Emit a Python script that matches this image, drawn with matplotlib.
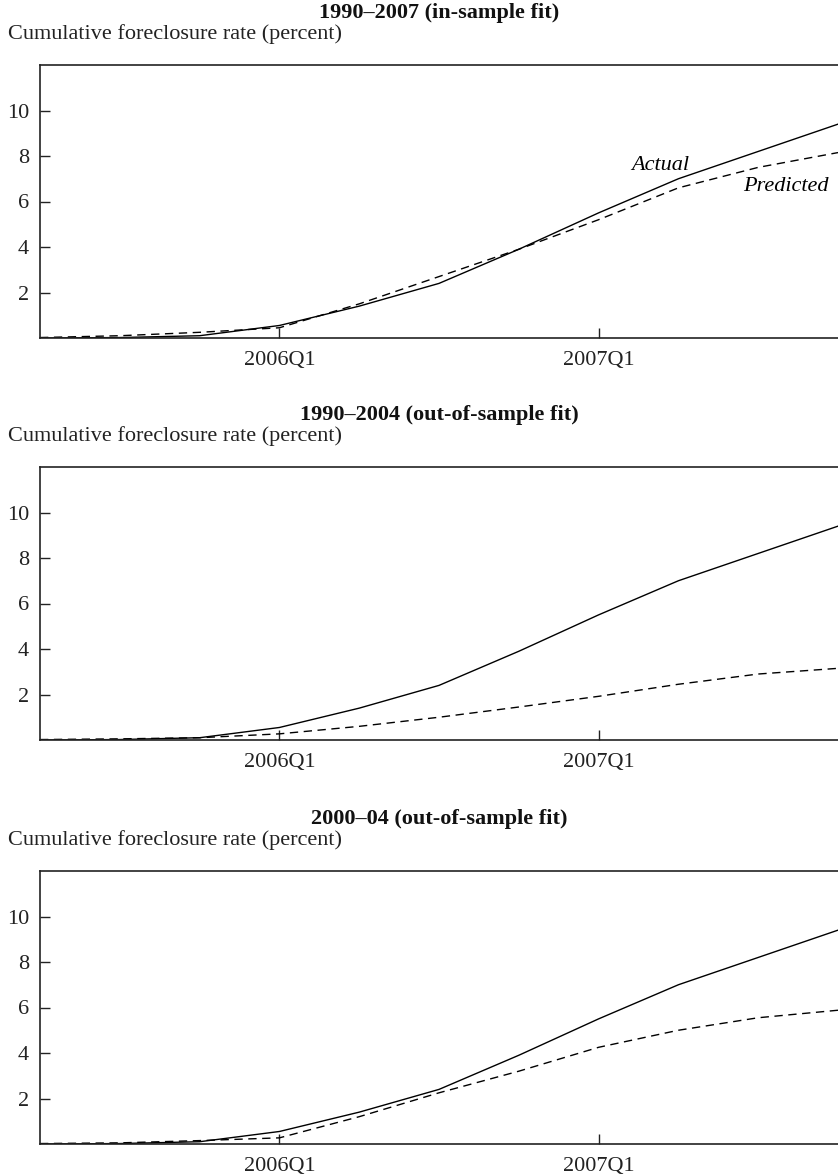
import matplotlib.pyplot as plt

plt.rcParams["font.family"] = ["Liberation Serif", "DejaVu Serif"]

# ---------- Data ----------
quarters = ["2005Q2", "2005Q3", "2005Q4", "2006Q1", "2006Q2", "2006Q3",
            "2006Q4", "2007Q1", "2007Q2", "2007Q3", "2007Q4"]
actual = [0.0, 0.02, 0.1, 0.55, 1.4, 2.4, 3.9, 5.5, 7.0, 8.2, 9.4]
pred_1990_2007 = [0.02, 0.1, 0.25, 0.45, 1.5, 2.7, 3.9, 5.2, 6.6, 7.5, 8.15]
pred_1990_2004 = [0.02, 0.05, 0.1, 0.27, 0.6, 1.0, 1.45, 1.92, 2.45, 2.9, 3.15]
pred_2000_04 = [0.02, 0.05, 0.15, 0.27, 1.2, 2.25, 3.2, 4.25, 5.0, 5.55, 5.88]

titles = ["1990\u20132007 (in-sample fit)",
          "1990\u20132004 (out-of-sample fit)",
          "2000\u201304 (out-of-sample fit)"]
predicted = [pred_1990_2007, pred_1990_2004, pred_2000_04]
tick_labels = ["2006Q1", "2007Q1"]

# ---------- Layout ----------
W, H = 838, 1175
fig = plt.figure(figsize=(W / 100, H / 100), dpi=100)
panel_tops = [65, 467, 871]
panel_h = 273
left = 40
fs = 16

x = list(range(len(quarters)))
for top, title, pred in zip(panel_tops, titles, predicted):
    ax = fig.add_axes([left / W, 1 - (top + panel_h) / H, (W - left) / W, panel_h / H])
    ax.plot(x, actual, color="black", lw=1.0)
    ax.plot(x, pred, color="black", lw=1.0, ls=(0, (6, 4)))
    ax.set_xlim(0, len(quarters) - 1)
    ax.set_ylim(0, 12)
    ax.set_yticks([2, 4, 6, 8, 10])
    ax.set_xticks([quarters.index(t) for t in tick_labels])
    ax.set_xticklabels(tick_labels)
    ax.tick_params(direction="in", length=7, width=1, labelsize=fs, colors="#222222")
    ax.tick_params(axis="x", pad=9)
    ax.tick_params(axis="y", pad=8)
    ax.spines["right"].set_visible(False)
    for s in ["left", "top", "bottom"]:
        ax.spines[s].set_linewidth(1.2)
        ax.spines[s].set_color("#222222")
    fig.text((left + W) / 2 / W, 1 - (top - 52) / H, title, ha="center", va="center",
             fontsize=fs, fontweight="bold", color="#111111")
    fig.text(8 / W, 1 - (top - 31) / H, "Cumulative foreclosure rate (percent)",
             ha="left", va="center", fontsize=fs, color="#222222")
    if top == panel_tops[0]:
        ax.text(7.77, 7.6, "Actual", style="italic", fontsize=fs, ha="center", va="center")
        ax.text(9.35, 6.66, "Predicted", style="italic", fontsize=fs, ha="center", va="center")

plt.savefig("out.png", dpi=100)
